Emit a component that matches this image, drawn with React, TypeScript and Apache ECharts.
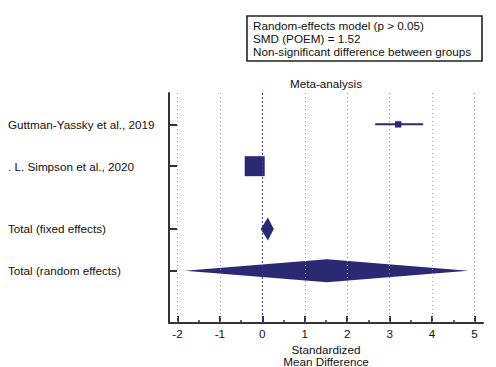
import React, { useEffect, useRef } from "react";
import * as echarts from "echarts";

const studyNames = ["Guttman-Yassky et al., 2019", ". L. Simpson et al., 2020"];
const studySMD = [3.2, -0.18];
const studyLow = [2.66, -0.38];
const studyHigh = [3.79, 0.02];
const studyWeight = [9.2, 90.8];

const pooledNames = ["Total (fixed effects)", "Total (random effects)"];
const pooledSMD = [0.13, 1.52];
const pooledLow = [-0.04, -1.83];
const pooledHigh = [0.27, 4.85];

const xTickValues = [-2, -1, 0, 1, 2, 3, 4, 5];
const xMinorValues = [-1.5, -0.5, 0.5, 1.5, 2.5, 3.5, 4.5];

const boxLines = [
  "Random-effects model (p > 0.05)",
  "SMD (POEM) = 1.52",
  "Non-significant difference between groups",
];
const plotTitle = "Meta-analysis";
const xAxisTitle = "Standardized\nMean Difference";

const rows = ["", studyNames[0], "", studyNames[1], "", "", pooledNames[0], "", pooledNames[1], "", ""];

const NAVY = "#2a2a72";
const AXIS = "#333333";
const FONT = "Liberation Sans, Arial, sans-serif";
const FS = 11.7;

export default function App() {
  const ref = useRef<HTMLDivElement>(null);
  useEffect(() => {
    if (!ref.current) return;
    const chart = echarts.init(ref.current, null, { renderer: "svg" });
    const studyData = studyNames.map((n, i) => [studySMD[i], studyLow[i], studyHigh[i], n, studyWeight[i]]);
    const pooledData = pooledNames.map((n, i) => [pooledSMD[i], pooledLow[i], pooledHigh[i], n]);
    const option: any = {
      animation: false,
      textStyle: { fontFamily: FONT },
      grid: { left: 169, right: 13, top: 93, bottom: 44, containLabel: false, outerBoundsMode: "none" },
      xAxis: [
        {
          type: "value",
          min: -2.2,
          max: 5.2,
          position: "bottom",
          axisLine: { show: true, onZero: false, lineStyle: { color: AXIS, width: 2 } },
          axisTick: { show: true, inside: true, length: 7, customValues: xTickValues, lineStyle: { color: AXIS, width: 2 } },
          axisLabel: { show: true, customValues: xTickValues, margin: 4, color: "#111", fontSize: FS, fontFamily: FONT },
          splitLine: { show: false },
          name: xAxisTitle,
          nameLocation: "middle",
          nameGap: 16,
          nameTextStyle: { color: "#111", fontSize: FS, fontFamily: FONT, lineHeight: 12, verticalAlign: "top" },
        },
        {
          type: "value",
          min: -2.2,
          max: 5.2,
          position: "bottom",
          offset: 0,
          axisLine: { show: false, onZero: false },
          axisTick: { show: true, inside: true, length: 3, customValues: xMinorValues, lineStyle: { color: AXIS, width: 1.5 } },
          axisLabel: { show: false },
          splitLine: { show: false },
        },
      ],
      yAxis: {
        type: "category",
        data: rows,
        inverse: true,
        boundaryGap: true,
        axisLine: { show: true, onZero: false, lineStyle: { color: AXIS, width: 2 } },
        axisTick: {
          show: true,
          inside: true,
          length: 8,
          alignWithLabel: true,
          interval: (_i: number, v: string) => v !== "",
          lineStyle: { color: AXIS, width: 2 },
        },
        axisLabel: { interval: 0, align: "left", margin: 161, color: "#111", fontSize: FS, fontFamily: FONT },
        splitLine: { show: false },
      },
      graphic: [
        {
          type: "rect",
          shape: { x: 247, y: 16, width: 235, height: 45 },
          style: { fill: "#fff", stroke: "#222", lineWidth: 1.6 },
        },
        ...boxLines.map((t, i) => ({
          type: "text",
          x: 253,
          y: 25 + i * 13,
          style: { text: t, fill: "#111", font: `${FS}px ${FONT}`, textVerticalAlign: "middle" },
        })),
        {
          type: "text",
          x: 326,
          y: 83,
          style: { text: plotTitle, fill: "#111", font: `${FS}px ${FONT}`, textAlign: "center", textVerticalAlign: "middle" },
        },
      ],
      series: [
        {
          type: "custom",
          name: "grid",
          z: 1,
          data: [],
          renderItem: () => null,
          markLine: {
            silent: true,
            symbol: "none",
            label: { show: false },
            data: xTickValues.map((v) => ({
              xAxis: v,
              lineStyle: v === 0 ? { color: "#3a3aa8", type: [2, 2], width: 1 } : { color: "#999", type: [1, 3], width: 1 },
            })),
          },
        },
        {
          type: "custom",
          name: "studies",
          z: 3,
          encode: { x: [0, 1, 2], y: 3 },
          data: studyData,
          renderItem: (_p: any, api: any) => {
            const cat = api.value(3);
            const c = api.coord([api.value(0), cat]);
            const l = api.coord([api.value(1), cat]);
            const h = api.coord([api.value(2), cat]);
            const s = 2.1 * Math.sqrt(api.value(4));
            return {
              type: "group",
              children: [
                { type: "line", shape: { x1: l[0], y1: c[1], x2: h[0], y2: c[1] }, style: { stroke: NAVY, lineWidth: 2 } },
                { type: "rect", shape: { x: c[0] - s / 2, y: c[1] - s / 2, width: s, height: s }, style: { fill: NAVY } },
              ],
            };
          },
        },
        {
          type: "custom",
          name: "pooled",
          z: 3,
          encode: { x: [0, 1, 2], y: 3 },
          data: pooledData,
          renderItem: (_p: any, api: any) => {
            const cat = api.value(3);
            const c = api.coord([api.value(0), cat]);
            const l = api.coord([api.value(1), cat]);
            const h = api.coord([api.value(2), cat]);
            const hh = 11.5;
            return {
              type: "polygon",
              shape: { points: [[l[0], c[1]], [c[0], c[1] - hh], [h[0], c[1]], [c[0], c[1] + hh]] },
              style: { fill: NAVY },
            };
          },
        },
      ],
    };
    chart.setOption(option);
    return () => chart.dispose();
  }, []);
  return <div ref={ref} style={{ position: "absolute", left: 0, top: 0, width: 496, height: 367 }} />;
}
